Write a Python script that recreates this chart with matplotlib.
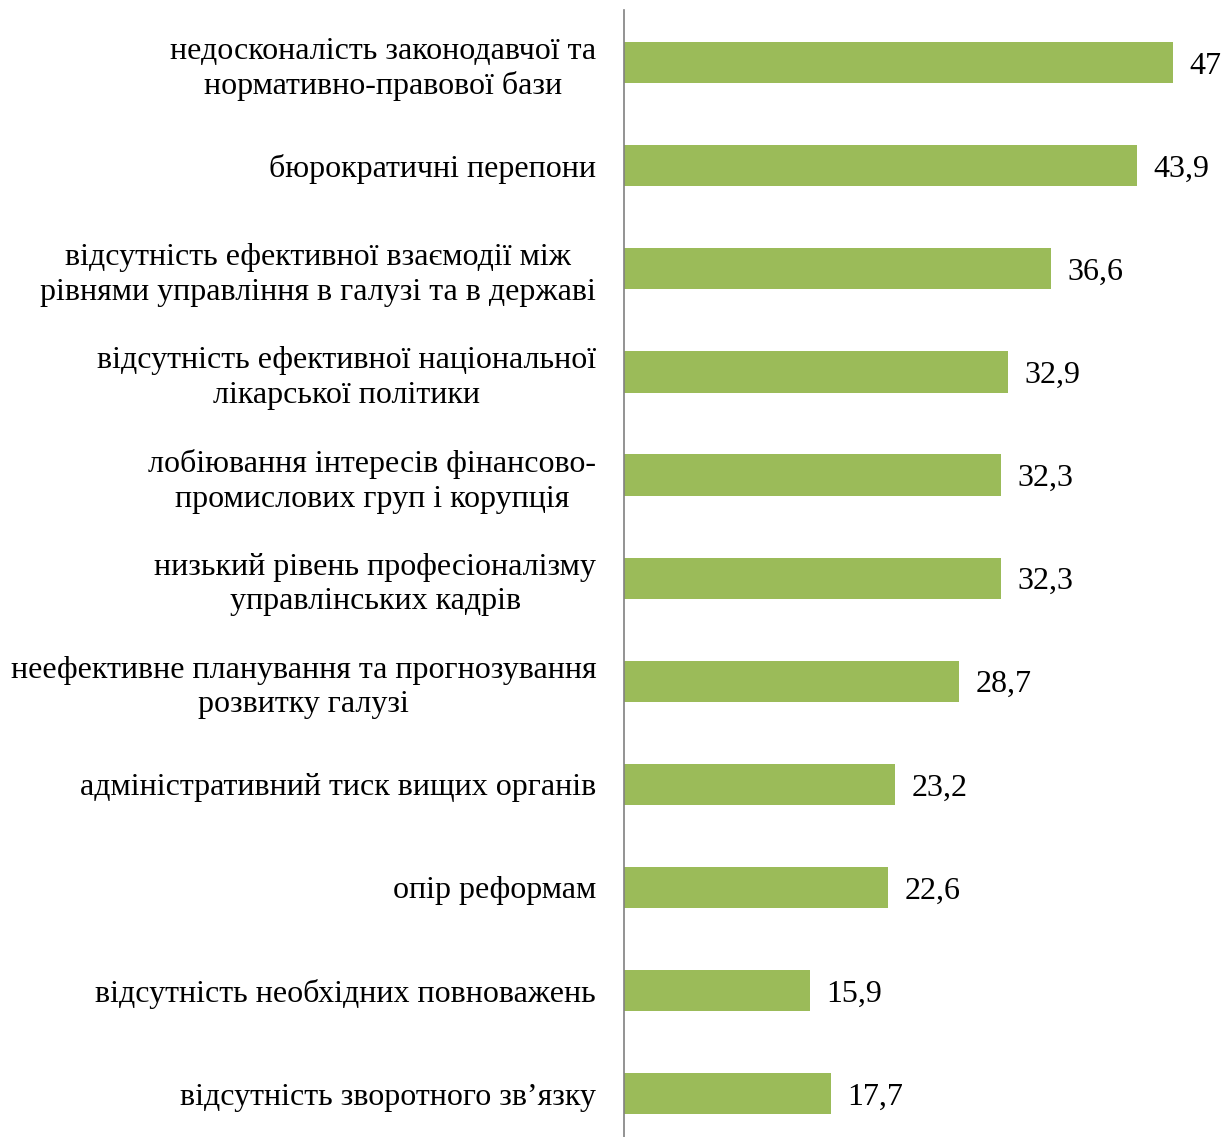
import matplotlib.pyplot as plt

plt.rcParams['font.family'] = ['Liberation Serif', 'DejaVu Serif']

# дані
categories = [
    'недосконалість законодавчої та\nнормативно-правової бази',
    'бюрократичні перепони',
    'відсутність ефективної взаємодії між\nрівнями управління в галузі та в державі',
    'відсутність ефективної національної\nлікарської політики',
    'лобіювання інтересів фінансово-\nпромислових груп і корупція',
    'низький рівень професіоналізму\nуправлінських кадрів',
    'неефективне планування та прогнозування\nрозвитку галузі',
    'адміністративний тиск вищих органів',
    'опір реформам',
    'відсутність необхідних повноважень',
    'відсутність зворотного зв’язку',
]
values = [47, 43.9, 36.6, 32.9, 32.3, 32.3, 28.7, 23.2, 22.6, 15.9, 17.7]
value_labels = ['47', '43,9', '36,6', '32,9', '32,3', '32,3', '28,7', '23,2', '22,6', '15,9', '17,7']

fig = plt.figure(figsize=(12.23, 11.37), dpi=100)
ax = fig.add_axes([624 / 1223, 0, 599 / 1223, 1127 / 1137])

pos = range(len(categories))
ax.barh(pos, values, height=0.4, color='#9BBB59')

for i, (v, lab) in enumerate(zip(values, value_labels)):
    ax.text(v + 1.4, i, lab, va='center_baseline', ha='left', fontsize=23, clip_on=False)

ax.set_yticks(list(pos))
ax.set_yticklabels(categories, fontsize=23, ha='right', multialignment='center',
                   linespacing=1.25)
ax.tick_params(axis='y', length=0, pad=20)
ax.set_xticks([])
ax.set_xlim(0, 599 / 11.68)
ax.set_ylim(10.42, -0.51)

for s in ['top', 'right', 'bottom']:
    ax.spines[s].set_visible(False)
ax.spines['left'].set_color('#808080')
ax.spines['left'].set_linewidth(1.2)

fig.savefig('out.png', dpi=100)
